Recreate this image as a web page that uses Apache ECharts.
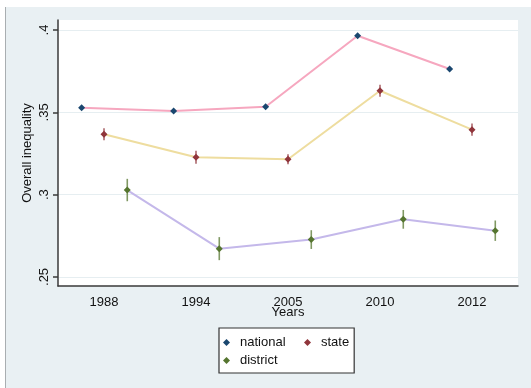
<!DOCTYPE html>
<html>
<head>
<meta charset="utf-8">
<script src="https://cdn.jsdelivr.net/npm/echarts@6/dist/echarts.min.js"></script>
<style>
  html, body { margin: 0; padding: 0; background: #fff; }
  #chart { width: 531px; height: 388px; }
</style>
</head>
<body>
<div id="chart"></div>
<script>
const years = ['1988', '1994', '2005', '2010', '2012'];
const national = [0.3528, 0.3508, 0.3534, 0.3965, 0.3763];
const state = [0.3367, 0.3227, 0.3215, 0.3631, 0.3395];
const district = [0.3028, 0.2672, 0.2727, 0.2850, 0.2781];
const nationalErr = [0.0009, 0.0009, 0.0009, 0.0009, 0.0009];
const stateErr = [0.0036, 0.0040, 0.0030, 0.0037, 0.0037];
const districtErr = [0.0068, 0.0070, 0.0057, 0.0057, 0.0062];
const yTicks = [0.25, 0.3, 0.35, 0.4];
const yTickLabels = ['.25', '.3', '.35', '.4'];

const FONT = 'Liberation Sans, Arial, sans-serif';

// dodge within each year: national left, state centre, district right
const points = (vals, shift) => vals.map((v, i) => [i + shift, v]);

const errBars = (vals, errs, shift, color) => ({
  type: 'custom',
  xAxisIndex: 1,
  z: 3,
  silent: true,
  data: vals.map((v, i) => [i + shift, v - errs[i], v + errs[i]]),
  renderItem: (params, api) => {
    const a = api.coord([api.value(0), api.value(1)]);
    const b = api.coord([api.value(0), api.value(2)]);
    return {
      type: 'line',
      shape: { x1: a[0], y1: a[1], x2: b[0], y2: b[1] },
      style: { stroke: color, lineWidth: 1.6, opacity: 0.75 }
    };
  }
});

const lineSeries = (name, vals, shift, mark, line) => ({
  name,
  type: 'line',
  xAxisIndex: 1,
  z: 4,
  data: points(vals, shift),
  symbol: 'diamond',
  symbolSize: 7,
  itemStyle: { color: mark },
  lineStyle: { color: line, width: 2 },
  emphasis: { disabled: true }
});

const chart = echarts.init(document.getElementById('chart'));
chart.setOption({
  animation: false,
  backgroundColor: '#fff',
  graphic: [
    { type: 'rect', z: -100, shape: { x: 5, y: 7, width: 526, height: 381 }, style: { fill: '#e9f0f3' } },
    { type: 'line', z: -99, shape: { x1: 5.5, y1: 7, x2: 5.5, y2: 388 }, style: { stroke: '#a9aeb1', lineWidth: 1 } }
  ],
  grid: {
    left: 58, right: 13, top: 20, bottom: 102,
    show: true, backgroundColor: '#fff', borderWidth: 0
  },
  legend: {
    data: [
      { name: 'national', textStyle: { width: 61 } },
      { name: 'state' },
      { name: 'district' }
    ],
    left: 219, top: 328,
    width: 136,
    padding: [7, 5, 5, 4],
    itemGap: 3,
    itemWidth: 7, itemHeight: 7,
    icon: 'diamond',
    backgroundColor: '#fff',
    borderColor: '#333',
    borderWidth: 1.2,
    borderRadius: 0,
    textStyle: { fontFamily: FONT, fontSize: 13, lineHeight: 15, color: '#111', padding: [0, 0, 0, 5] }
  },
  xAxis: [
    {
      type: 'category',
      data: years,
      boundaryGap: true,
      axisLine: { lineStyle: { color: '#3a3a3a', width: 1.5 } },
      axisTick: { alignWithLabel: true, length: 5, lineStyle: { color: '#3a3a3a', width: 1.5 } },
      axisLabel: { fontFamily: FONT, fontSize: 13, color: '#111', margin: 10 },
      name: 'Years',
      nameLocation: 'middle',
      nameGap: 20,
      nameMoveOverlap: false,
      nameTextStyle: { fontFamily: FONT, fontSize: 13, color: '#111' },
      splitLine: { show: false }
    },
    {
      type: 'value',
      min: -0.5, max: 4.5,
      show: false
    }
  ],
  yAxis: {
    type: 'value',
    min: 0.2445, max: 0.4061,
    axisLine: { show: true, onZero: false, lineStyle: { color: '#3a3a3a', width: 1.5 } },
    axisTick: { show: true, length: 5, customValues: yTicks, lineStyle: { color: '#3a3a3a', width: 1.5 } },
    axisLabel: {
      customValues: yTicks,
      rotate: 90,
      margin: 7,
      fontFamily: FONT, fontSize: 13, color: '#111',
      formatter: (v) => yTickLabels[yTicks.findIndex((t) => Math.abs(t - v) < 1e-6)] || ''
    },
    splitLine: { show: true, lineStyle: { color: '#e6eef1', width: 1.2 } },
    name: 'Overall inequality',
    nameLocation: 'middle',
    nameRotate: 90,
    nameGap: 24,
    nameMoveOverlap: false,
    nameTextStyle: { fontFamily: FONT, fontSize: 13, color: '#111' }
  },
  series: [
    lineSeries('national', national, -0.243, '#1a476f', '#f6a7bf'),
    lineSeries('state', state, 0, '#90353b', '#eedd9f'),
    lineSeries('district', district, 0.253, '#55752f', '#c4b8ea'),
    errBars(national, nationalErr, -0.243, '#1a476f'),
    errBars(state, stateErr, 0, '#90353b'),
    errBars(district, districtErr, 0.253, '#55752f')
  ]
});
</script>
</body>
</html>
